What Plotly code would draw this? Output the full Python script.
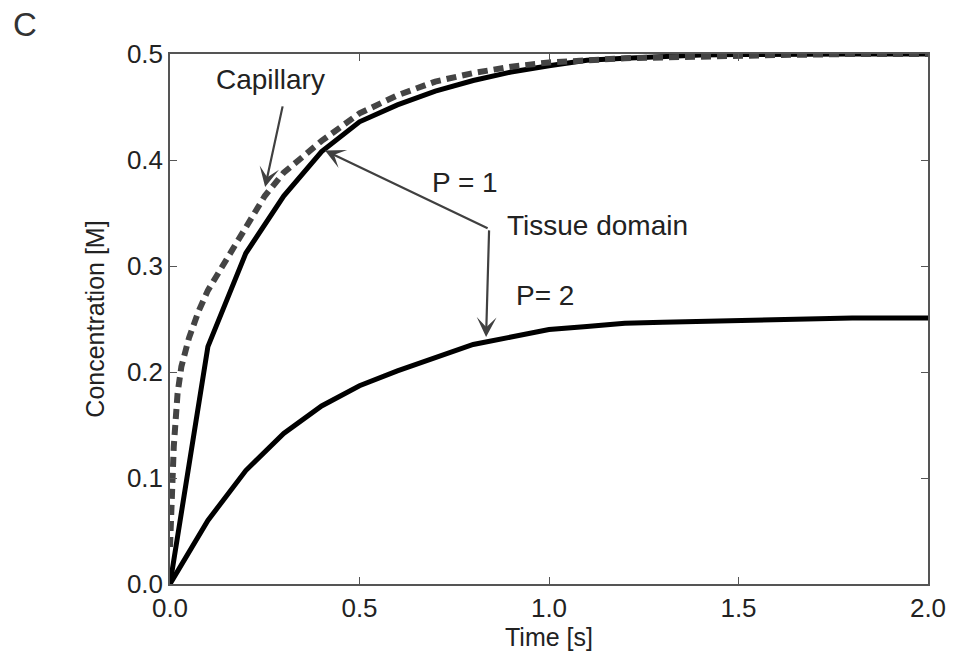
import plotly.graph_objects as go

# ---- data ----
t_tissue = [0.0, 0.1, 0.2, 0.3, 0.4, 0.5, 0.6, 0.7, 0.8, 0.9, 1.0,
            1.1, 1.2, 1.3, 1.4, 1.5, 1.6, 1.7, 1.8, 1.9, 2.0]
p1_conc = [0.0, 0.224, 0.312, 0.366, 0.408, 0.436, 0.452, 0.465, 0.475, 0.483, 0.489,
           0.494, 0.496, 0.498, 0.499, 0.4995, 0.5, 0.5, 0.5, 0.5, 0.5]
p2_conc = [0.0, 0.060, 0.107, 0.142, 0.168, 0.187, 0.201, 0.213, 0.226, 0.233, 0.240,
           0.243, 0.246, 0.247, 0.248, 0.249, 0.250, 0.250, 0.251, 0.251, 0.251]

t_cap = [0.0, 0.005, 0.01, 0.02, 0.03, 0.05, 0.075, 0.1, 0.15, 0.2, 0.25, 0.3,
         0.4, 0.5, 0.6, 0.7, 0.8, 0.9, 1.0, 1.2, 1.4, 1.6, 1.8, 2.0]
cap_conc = [0.035, 0.09, 0.13, 0.18, 0.205, 0.232, 0.257, 0.277, 0.306, 0.336, 0.366, 0.388,
            0.418, 0.444, 0.461, 0.474, 0.482, 0.488, 0.492, 0.496, 0.498, 0.499, 0.5, 0.5]

x_ticks = [0.0, 0.5, 1.0, 1.5, 2.0]
x_ticklabels = ["0.0", "0.5", "1.0", "1.5", "2.0"]
y_ticks = [0.0, 0.1, 0.2, 0.3, 0.4, 0.5]
y_ticklabels = ["0.0", "0.1", "0.2", "0.3", "0.4", "0.5"]

FONT = "Liberation Sans, Arial, sans-serif"
AX = "#555555"
ARROW = "#404040"
TXT = "#222222"

fig = go.Figure()
fig.add_trace(go.Scatter(x=t_tissue, y=p2_conc, mode="lines",
                         line=dict(color="black", width=5), showlegend=False))
fig.add_trace(go.Scatter(x=t_tissue, y=p1_conc, mode="lines",
                         line=dict(color="black", width=5), showlegend=False))
fig.add_trace(go.Scatter(x=t_cap, y=cap_conc, mode="lines",
                         line=dict(color="#444444", width=6, dash="10px,6px"),
                         showlegend=False))

axis_common = dict(showgrid=False, zeroline=False, showline=True, linecolor=AX,
                   linewidth=1.5, mirror="ticks", ticks="inside", ticklen=7,
                   tickwidth=1.2, tickcolor=AX,
                   tickfont=dict(family=FONT, size=26, color=TXT))

fig.update_xaxes(range=[0, 2], tickvals=x_ticks, ticktext=x_ticklabels,
                 title=dict(text="Time [s]", font=dict(family=FONT, size=25, color=TXT),
                            standoff=7),
                 **axis_common)
fig.update_yaxes(range=[0, 0.5], tickvals=y_ticks, ticktext=y_ticklabels,
                 title=dict(text="Concentration [M]", font=dict(family=FONT, size=25, color=TXT),
                            standoff=15),
                 **axis_common)

txt = dict(family=FONT, size=28, color=TXT)
arrow_style = dict(showarrow=True, arrowhead=3, arrowsize=1.5, arrowwidth=2.2,
                   arrowcolor=ARROW, text="", xref="x", yref="y", axref="x", ayref="y")
ann = []
# Capillary
ann.append(dict(x=0.264, y=0.476, xref="x", yref="y", text="Capillary",
                showarrow=False, font=txt))
ann.append(dict(x=0.251, y=0.3745, ax=0.298, ay=0.452, **arrow_style))
# Tissue domain arrows
ann.append(dict(x=0.409, y=0.409, ax=0.842, ay=0.335, **arrow_style))
ann.append(dict(x=0.834, y=0.233, ax=0.842, ay=0.335, **arrow_style))
ann.append(dict(x=0.778, y=0.379, xref="x", yref="y", text="P = 1",
                showarrow=False, font=txt))
ann.append(dict(x=1.129, y=0.338, xref="x", yref="y", text="Tissue domain",
                showarrow=False, font=txt))
ann.append(dict(x=0.989, y=0.272, xref="x", yref="y", text="P= 2",
                showarrow=False, font=txt))

W, H = 958, 662
L, R, T, B = 170, 30, 54, 78
pw, ph = W - L - R, H - T - B
# panel letter (placed in paper coordinates)
ann.append(dict(x=(25 - L) / pw, y=(H - B - 24) / ph, xref="paper", yref="paper",
                text="C", showarrow=False, xanchor="center", yanchor="middle",
                font=dict(family=FONT, size=33, color="#333333")))
fig.update_layout(annotations=ann)

fig.update_layout(width=W, height=H, margin=dict(l=L, r=R, t=T, b=B),
                  paper_bgcolor="white", plot_bgcolor="white",
                  font=dict(family=FONT))

fig.write_html("out.html")
